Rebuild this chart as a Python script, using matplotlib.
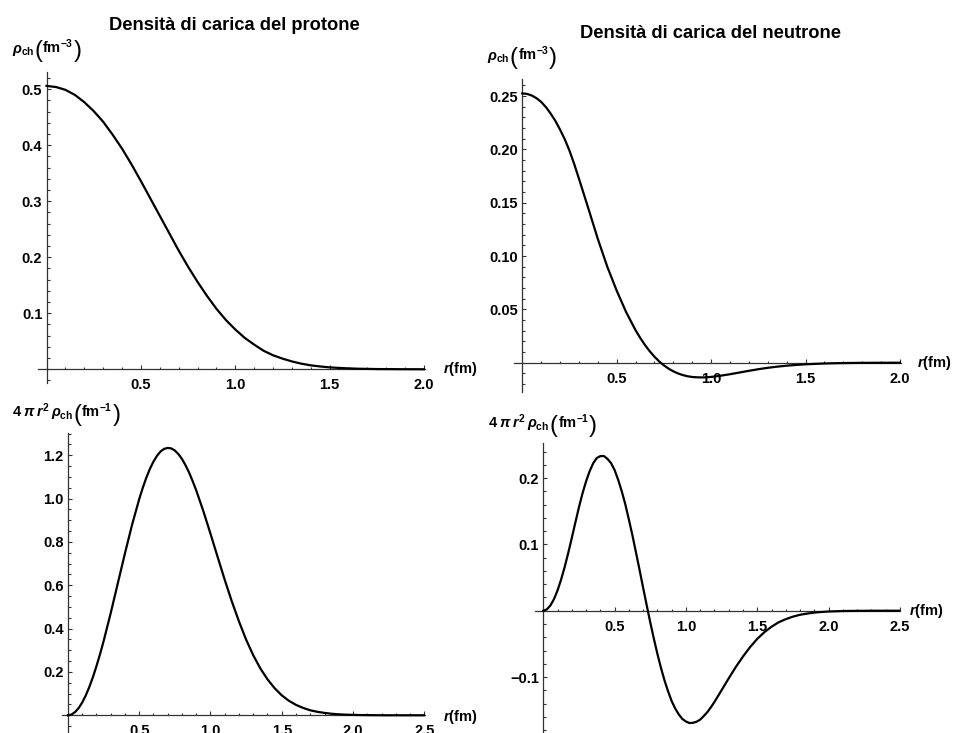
import matplotlib
matplotlib.use("Agg")
import matplotlib.pyplot as plt
from matplotlib.ticker import FixedLocator, FixedFormatter, MultipleLocator

# ---------------- data ----------------
# sampling grids (fm)
r_p_top = [round(0.05 * i, 3) for i in range(41)]
r_n_top = ([round(0.025 * i, 3) for i in range(13)]
           + [0.35, 0.40, 0.45, 0.50, 0.55]
           + [round(0.6 + 0.025 * i, 3) for i in range(21)]
           + [round(1.15 + 0.05 * i, 3) for i in range(18)])
r_p_bot = ([round(0.025 * i, 3) for i in range(11)]
           + [0.30, 0.35, 0.40, 0.45, 0.50]
           + [round(0.525 + 0.025 * i, 3) for i in range(16)]
           + [round(0.95 + 0.05 * i, 3) for i in range(32)])
r_n_bot = ([round(0.025 * i, 3) for i in range(49)]
           + [round(1.25 + 0.05 * i, 3) for i in range(26)])

# proton charge density rho_ch (fm^-3)
rho_proton = [0.506, 0.504, 0.499, 0.490, 0.477, 0.461, 0.442, 0.419, 0.394, 0.366,
              0.336, 0.305, 0.274, 0.243, 0.212, 0.183, 0.156, 0.131, 0.108, 0.088,
              0.071, 0.056, 0.044, 0.033, 0.025, 0.019, 0.014, 0.010, 0.007, 0.005,
              0.0034, 0.0024, 0.0016, 0.0010, 0.0007, 0.0004, 0.0003, 0.0002, 0.0001, 0.0001,
              0.0]

# neutron charge density rho_ch (fm^-3)
rho_neutron = [0.2525, 0.2520, 0.2505, 0.2480, 0.2445, 0.2396, 0.2336, 0.2267, 0.2185, 0.2094,
               0.1987, 0.1862, 0.1725,
               0.1445, 0.1160, 0.0900, 0.0675, 0.0474,
               0.0304, 0.0231, 0.0165, 0.0107, 0.0056, 0.0012, -0.0025, -0.0056, -0.0081, -0.0101,
               -0.0116, -0.0127, -0.0134, -0.0137, -0.0138, -0.0137, -0.0133, -0.0128, -0.0122, -0.0115,
               -0.0108,
               -0.0092, -0.0076, -0.0061, -0.0048, -0.0037, -0.0028, -0.0021, -0.0015, -0.0011, -0.00075,
               -0.0005, -0.00035, -0.00023, -0.00015, -0.0001, -0.00006, -0.00004, -0.00002]

# proton 4 pi r^2 rho_ch (fm^-1)
rad_proton = [0.0, 0.0037, 0.015, 0.0335, 0.059, 0.0918, 0.131, 0.176, 0.227, 0.2823, 0.342,
              0.472, 0.610, 0.748, 0.880, 0.998,
              1.0503, 1.097, 1.1373, 1.171, 1.1979, 1.218, 1.2296, 1.234, 1.2317, 1.222,
              1.2054, 1.183, 1.1537, 1.120, 1.0805, 1.038,
              0.942, 0.838, 0.731, 0.625, 0.525, 0.433, 0.349, 0.277, 0.216, 0.166,
              0.125, 0.092, 0.067, 0.048, 0.034, 0.023, 0.016, 0.011, 0.007, 0.0044,
              0.0028, 0.0018, 0.0011, 0.0007, 0.0004, 0.0002, 0.0001, 0.0001, 0.0, 0.0,
              0.0, 0.0]

# neutron 4 pi r^2 rho_ch (fm^-1)
rad_neutron = [0.0, 0.0020, 0.0079, 0.0175, 0.0307, 0.0470, 0.0660, 0.0872, 0.1098, 0.1332,
               0.1561, 0.1770, 0.1951, 0.2105, 0.2224, 0.2303, 0.2332, 0.2333, 0.2290, 0.2226,
               0.2121, 0.1974, 0.1802, 0.1604, 0.1375, 0.1135, 0.0876, 0.0614, 0.0345, 0.0081,
               -0.0177, -0.0422, -0.0651, -0.0863, -0.1053, -0.1218, -0.1364, -0.1476, -0.1565, -0.1633,
               -0.1671, -0.1694, -0.1690, -0.1674, -0.1642, -0.1588, -0.1529, -0.1456, -0.1375,
               -0.1198, -0.1019, -0.0847, -0.0690, -0.0547, -0.0424, -0.0323, -0.0241, -0.0174, -0.0127,
               -0.0089, -0.0061, -0.0043, -0.0028, -0.0019, -0.0012, -0.0008, -0.0005, -0.0003, -0.0002,
               -0.0001, 0.0, 0.0, 0.0, 0.0, 0.0]

xt_top = [0.5, 1.0, 1.5, 2.0]
xl_top = ["0.5", "1.0", "1.5", "2.0"]
xt_bot = [0.5, 1.0, 1.5, 2.0, 2.5]
xl_bot = ["0.5", "1.0", "1.5", "2.0", "2.5"]
yt_tl = [0.1, 0.2, 0.3, 0.4, 0.5]
yl_tl = ["0.1", "0.2", "0.3", "0.4", "0.5"]
yt_tr = [0.05, 0.10, 0.15, 0.20, 0.25]
yl_tr = ["0.05", "0.10", "0.15", "0.20", "0.25"]
yt_bl = [0.2, 0.4, 0.6, 0.8, 1.0, 1.2]
yl_bl = ["0.2", "0.4", "0.6", "0.8", "1.0", "1.2"]
yt_br = [-0.1, 0.1, 0.2]
yl_br = ["\u22120.1", "0.1", "0.2"]

title_p = "Densità di carica del protone"
title_n = "Densità di carica del neutrone"
ylab_top_head = r"$\rho_{\mathrm{ch}}$"
ylab_bot_head = r"$4\;\pi\,r^{2}\,\rho_{\mathrm{ch}}$"
ylab_top_unit = r"fm$^{-3}$"
ylab_bot_unit = r"fm$^{-1}$"
xlab = r"$r$(fm)"

# ---------------- style ----------------
plt.rcParams["font.family"] = ["Liberation Sans", "DejaVu Sans"]
plt.rcParams["font.weight"] = "bold"
plt.rcParams["mathtext.fontset"] = "custom"
plt.rcParams["mathtext.rm"] = "Liberation Sans:bold"
plt.rcParams["mathtext.bf"] = "Liberation Sans:bold"
plt.rcParams["mathtext.sf"] = "Liberation Sans:bold"
plt.rcParams["mathtext.it"] = "Liberation Sans:italic:bold"

W, H = 956, 733
fig = plt.figure(figsize=(W / 100, H / 100), dpi=100)
AX_COL = "#333333"
TICK_FS = 10.5


def px_axes(l, t, r, b):
    return fig.add_axes([l / W, 1 - b / H, (r - l) / W, (b - t) / H])


def style(ax, xlim, ylim, xt, xl, yt, yl, xminor, yminor):
    ax.set_xlim(*xlim)
    ax.set_ylim(*ylim)
    for s in ("top", "right"):
        ax.spines[s].set_visible(False)
    for s in ("left", "bottom"):
        ax.spines[s].set_position(("data", 0))
        ax.spines[s].set_color(AX_COL)
        ax.spines[s].set_linewidth(0.9)
    ax.xaxis.set_major_locator(FixedLocator(xt))
    ax.xaxis.set_major_formatter(FixedFormatter(xl))
    ax.yaxis.set_major_locator(FixedLocator(yt))
    ax.yaxis.set_major_formatter(FixedFormatter(yl))
    ax.xaxis.set_minor_locator(MultipleLocator(xminor))
    ax.yaxis.set_minor_locator(MultipleLocator(yminor))
    ax.tick_params(which="both", direction="in", color=AX_COL, width=0.8,
                   labelsize=TICK_FS, labelcolor="black")
    ax.tick_params(which="major", length=3.0)
    ax.tick_params(which="minor", length=1.8)
    ax.tick_params(axis="x", which="major", pad=6.5)
    ax.tick_params(axis="y", which="major", pad=3)
    for lab in ax.get_xticklabels() + ax.get_yticklabels():
        lab.set_fontweight("bold")
    ax.patch.set_alpha(0)


line_kw = dict(color="black", lw=1.6, zorder=3, solid_joinstyle="round")

ax1 = px_axes(38.2, 71.9, 424.7, 383.0)
ax1.plot(r_p_top, rho_proton, **line_kw)
style(ax1, (-0.044, 2.003), (-0.0245, 0.531), xt_top, xl_top, yt_tl, yl_tl, 0.1, 0.02)

ax2 = px_axes(514.0, 79.4, 900.5, 391.5)
ax2.plot(r_n_top, rho_neutron, **line_kw)
style(ax2, (-0.044, 2.003), (-0.027, 0.2656), xt_top, xl_top, yt_tr, yl_tr, 0.1, 0.01)

ax3 = px_axes(61.7, 433.4, 424.7, 733.7)
ax3.plot(r_p_bot, rad_proton, **line_kw)
style(ax3, (-0.044, 2.503), (-0.085, 1.301), xt_bot, xl_bot, yt_bl, yl_bl, 0.1, 0.05)

ax4 = px_axes(535.0, 442.7, 900.4, 736.7)
ax4.plot(r_n_bot, rad_neutron, **line_kw)
style(ax4, (-0.058, 2.503), (-0.19, 0.2534), xt_bot, xl_bot, yt_br, yl_br, 0.1, 0.02)


def ftext(x, y, s, **kw):
    return fig.text(x / W, 1 - y / H, s, **kw)


renderer = fig.canvas.get_renderer()


def compound_label(x0, base_y, head, unit, fs=10.5, pfs=17, pdy=4.0):
    """head + big ( unit big ) laid out left to right on one baseline"""
    parts = [(head, fs, 0.0, "bold"), ("(", pfs, pdy, "normal"),
             (unit, fs, 0.0, "bold"), (")", pfs, pdy, "normal")]
    x = x0
    for s, size, dy, wt in parts:
        t = ftext(x, base_y + dy, s, ha="left", va="baseline", fontsize=size, fontweight=wt)
        bb = t.get_window_extent(renderer)
        x += bb.width


# titles
ftext(234.5, 30.5, title_p, ha="center", va="baseline", fontsize=13.2, fontweight="bold")
ftext(710, 38.0, title_n, ha="center", va="baseline", fontsize=13.2, fontweight="bold")

# y-axis labels
compound_label(11.7, 53.0, ylab_top_head, ylab_top_unit)
compound_label(487.3, 60.0, ylab_top_head, ylab_top_unit)
compound_label(11.7, 416.7, ylab_bot_head, ylab_bot_unit)
compound_label(488.3, 428.3, ylab_bot_head, ylab_bot_unit)

# x-axis labels
ftext(443, 369, xlab, ha="left", va="center", fontsize=10.5, fontweight="bold")
ftext(917, 363, xlab, ha="left", va="center", fontsize=10.5, fontweight="bold")
ftext(442.7, 717, xlab, ha="left", va="center", fontsize=10.5, fontweight="bold")
ftext(909, 610.5, xlab, ha="left", va="center", fontsize=10.5, fontweight="bold")

fig.savefig("out.png", dpi=100)
